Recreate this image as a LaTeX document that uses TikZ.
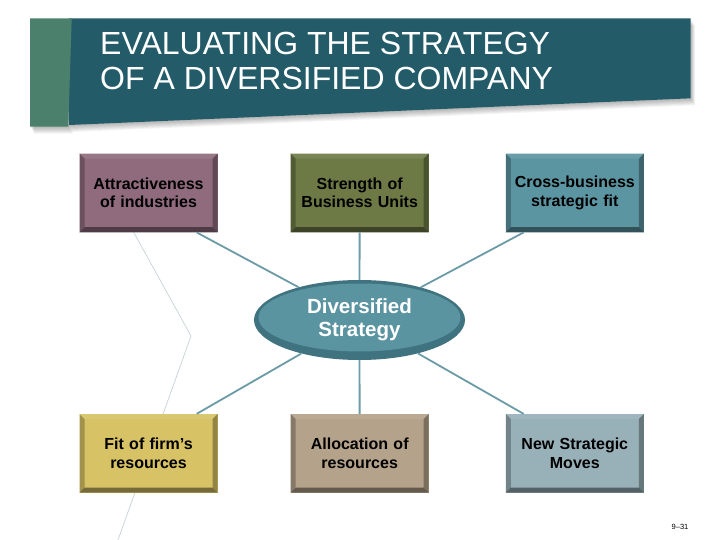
\documentclass[tikz,border=0pt]{standalone}
\usepackage{fontspec}
\setmainfont{Liberation Sans}
\usetikzlibrary{shapes.geometric}
\definecolor{titlebar}{HTML}{245B68}
\definecolor{titletab}{HTML}{4A806C}
\definecolor{boxmauve}{HTML}{8F6B7D}
\definecolor{boxolive}{HTML}{6D7A45}
\definecolor{boxteal}{HTML}{5C95A2}
\definecolor{boxmustard}{HTML}{D7C266}
\definecolor{boxtan}{HTML}{B4A28A}
\definecolor{boxsteel}{HTML}{98B0B8}
\definecolor{hubrim}{HTML}{3F7380}
\definecolor{hubface}{HTML}{5B94A1}
\definecolor{linkcol}{HTML}{6A9BA7}
\definecolor{faintcol}{HTML}{C5D3D8}
\tikzset{bevel/.style={path picture={
      \path (path picture bounding box.south west) coordinate (bsw)
            (path picture bounding box.south east) coordinate (bse)
            (path picture bounding box.north west) coordinate (bnw)
            (path picture bounding box.north east) coordinate (bne);
      \fill[#1!92!white] (bnw) -- (bne) -- ([shift={(-5pt,-5pt)}]bne) -- ([shift={(5pt,-5pt)}]bnw) -- cycle;
      \fill[#1!75!black] (bsw) -- (bnw) -- ([shift={(5pt,-5pt)}]bnw) -- ([shift={(5pt,5pt)}]bsw) -- cycle;
      \fill[#1!68!black] (bse) -- (bne) -- ([shift={(-5pt,-5pt)}]bne) -- ([shift={(-5pt,5pt)}]bse) -- cycle;
      \fill[#1!55!black] (bsw) -- (bse) -- ([shift={(-5pt,5pt)}]bse) -- ([shift={(5pt,5pt)}]bsw) -- cycle;
    }},
    box/.style={rectangle, fill=#1, bevel=#1,
      minimum width=138pt, minimum height=78.5pt, inner sep=0pt,
      text width=130pt, align=center,
      font=\bfseries\fontsize{16}{18.5}\selectfont},
    hub/.style={ellipse, fill=hubrim,
      minimum width=211pt, minimum height=80pt, inner sep=0pt,
      text=white, align=center,
      font=\bfseries\fontsize{20.5}{22.6}\selectfont,
      path picture={\fill[hubface] ([yshift=2.5pt]path picture bounding box.center) ellipse (101pt and 34pt);}},
    link/.style={draw=linkcol, line width=1.8pt},
    faint/.style={draw=faintcol, line width=0.7pt},
    heading/.style={anchor=base west, inner sep=0pt, text=white,
      font=\fontsize{32}{34}\selectfont},
    }

\begin{document}
\begin{tikzpicture}[x=1pt,y=-1pt]
\useasboundingbox (0,0) rectangle (720,540);
\fill[white] (0,0) rectangle (720,540);
% title banner, soft shadow first
\foreach \s in {1,...,7}
  \fill[black, opacity=0.045] ([shift={(0.6*\s,\s)}]30,18.3) -- ([shift={(0.6*\s,\s)}]690.7,18.3)
     -- ([shift={(0.6*\s,\s)}]690.7,98.3) -- ([shift={(0.6*\s,\s)}]69,125)
     -- ([shift={(0.6*\s,\s)}]68.3,126.7) -- ([shift={(0.6*\s,\s)}]30,126.7) -- cycle;
\fill[titlebar] (69,18.3) -- (690.7,18.3) -- (690.7,98.3) -- (69,125) -- cycle;
\fill[titletab] (30,18.3) -- (71.7,18.3) -- (68.3,126.7) -- (30,126.7) -- cycle;
\node[heading] (title1) at (100,55) {EVALUATING THE STRATEGY};
\node[heading] (title2) at (100,89.3) {OF A DIVERSIFIED COMPANY};
% faint background stroke
\draw[faint] (128,222) -- (191,336) -- (118,540);
% boxes
\node[box=boxmauve] (attract) at (148.5,193) {Attractiveness\\of industries};
\node[box=boxolive] (strength) at (359.7,193) {Strength of\\Business Units};
\node[box=boxteal] (crossfit) at (574.8,193) {Cross-business\\strategic fit};
\node[box=boxmustard] (fit) at (148.5,453.3) {Fit of firm’s\\resources};
\node[box=boxtan] (alloc) at (359.7,453.3) {Allocation of\\resources};
\node[box=boxsteel] (moves) at (574.8,453.3) {New Strategic\\Moves};
\node[hub] (strategy) at (359.5,320) {Diversified\\Strategy};
% spokes
\draw[link] (strategy) -- ([xshift=-21pt]attract.south east);
\draw[link] (strategy) -- (strength);
\draw[link] (strategy) -- ([xshift=18pt]crossfit.south west);
\draw[link] (strategy) -- ([xshift=-21pt]fit.north east);
\draw[link] (strategy) -- (alloc);
\draw[link] (strategy) -- ([xshift=18pt]moves.north west);
\node[font=\fontsize{7.5}{9}\selectfont] (pageno) at (680,526.7) {9--31};
\end{tikzpicture}
\end{document}
